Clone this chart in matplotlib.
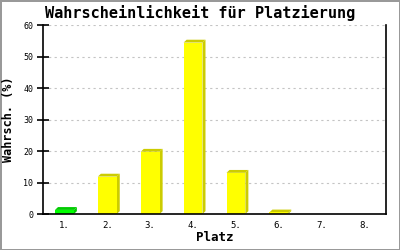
import matplotlib
matplotlib.use('Agg')
import matplotlib.pyplot as plt
from matplotlib.patches import Polygon, Rectangle

# data
places = ['1.', '2.', '3.', '4.', '5.', '6.', '7.', '8.']
probs = [1.3, 11.9, 19.8, 54.5, 13.1, 0.5, 0.0, 0.0]
front_colors = ['#00ff00'] + ['#ffff00'] * 7
side_colors = ['#00cc00'] + ['#cccc00'] * 7

mono = 'DejaVu Sans Mono'

fig = plt.figure(figsize=(4, 2.5), dpi=100, facecolor='white',
                 edgecolor='#999999', linewidth=2)
ax = fig.add_axes([0.1075, 0.144, 0.8575, 0.755])

x = list(range(1, len(places) + 1))
width = 0.44
dx = 0.07   # depth in x (data units, ~3px)
dy = 0.9    # depth in y (data units, ~3px)

for xi, v, fc, sc in zip(x, probs, front_colors, side_colors):
    if v <= 0:
        continue
    x0, x1 = xi - width / 2, xi + width / 2
    # side
    ax.add_patch(Polygon([(x1, 0), (x1 + dx, dy), (x1 + dx, v + dy), (x1, v)],
                         closed=True, facecolor=sc, edgecolor='none', zorder=3))
    # top
    ax.add_patch(Polygon([(x0, v), (x0 + dx, v + dy), (x1 + dx, v + dy), (x1, v)],
                         closed=True, facecolor=sc, edgecolor='none', zorder=3))
    # front
    ax.add_patch(Rectangle((x0, 0), width, v, facecolor=fc, edgecolor='none', zorder=4))

ax.set_xlim(0.5, 8.5)
ax.set_ylim(0, 60)
ax.set_yticks([0, 10, 20, 30, 40, 50, 60])
ax.set_xticks(x)
ax.set_xticklabels(places)
ax.yaxis.grid(True, linestyle=(0, (2, 3)), color='#c4c4c4', linewidth=0.8)
ax.set_axisbelow(True)

ax.spines['top'].set_visible(False)
for s in ['left', 'right', 'bottom']:
    ax.spines[s].set_color('black')
    ax.spines[s].set_linewidth(1.2)
    ax.spines[s].set_zorder(5)

ax.tick_params(axis='y', direction='inout', length=8, width=1.2, labelsize=6, pad=3)
ax.tick_params(axis='x', length=0, labelsize=6.5, pad=5)
for lab in ax.get_xticklabels() + ax.get_yticklabels():
    lab.set_family(mono)

ax.set_xlabel('Platz', family=mono, fontweight='bold', fontsize=9, labelpad=1)
ax.set_ylabel('Wahrsch. (%)', family=mono, fontweight='bold', fontsize=8.5, labelpad=6)
fig.text(0.5, 0.948, 'Wahrscheinlichkeit für Platzierung', family=mono,
         fontweight='bold', fontsize=11, ha='center', va='center')

fig.savefig('out.png', dpi=100, facecolor='white', edgecolor=fig.get_edgecolor())
